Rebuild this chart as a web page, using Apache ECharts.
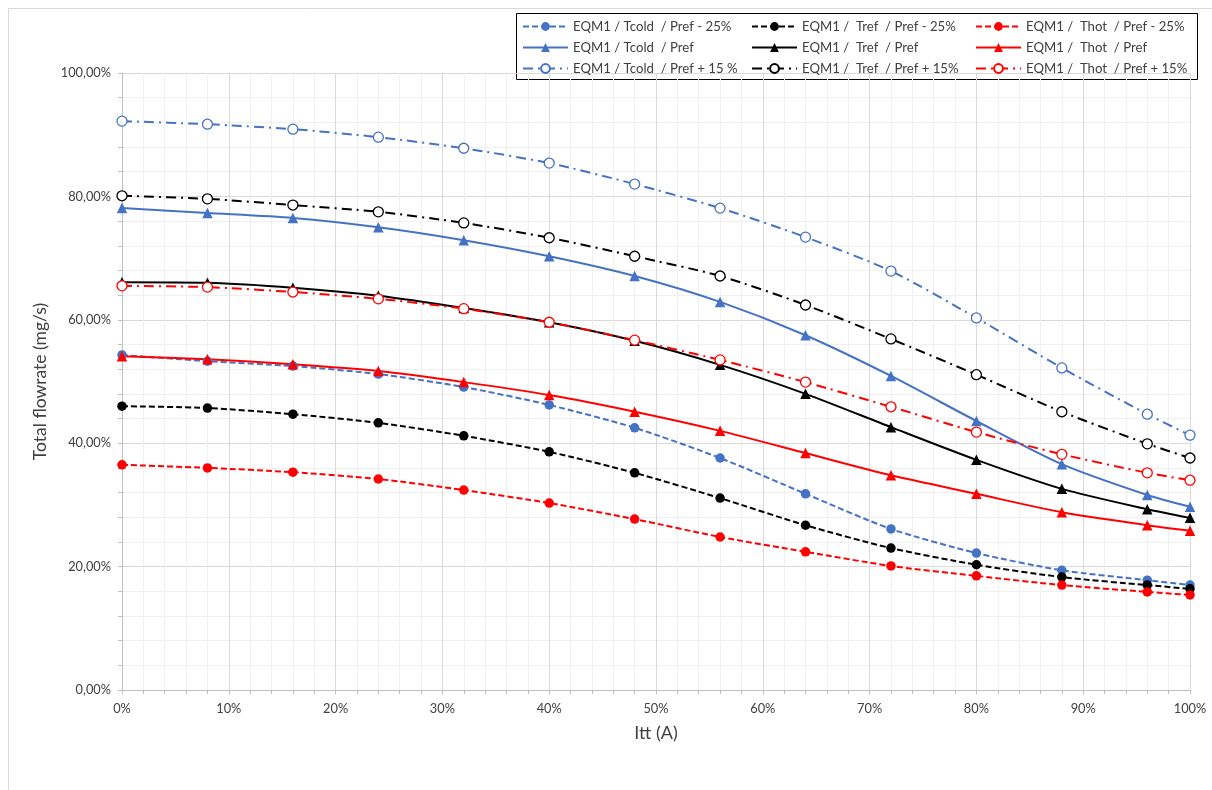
<!DOCTYPE html>
<html><head><meta charset="utf-8">
<script src="https://cdn.jsdelivr.net/npm/echarts@6/dist/echarts.min.js"></script>
<style>html,body{margin:0;padding:0;background:#fff}#c{width:1212px;height:790px}</style>
</head><body><div id="c"></div>
<script>
const itt = [0, 8, 16, 24, 32, 40, 48, 56, 64, 72, 80, 88, 96, 100];
const xTicks = ['0%','10%','20%','30%','40%','50%','60%','70%','80%','90%','100%'];
const tcoldM25 = [54.3, 53.3, 52.5, 51.2, 49.1, 46.2, 42.5, 37.6, 31.8, 26.1, 22.2, 19.4, 17.8, 17.0];
const trefM25  = [46.0, 45.7, 44.7, 43.3, 41.2, 38.6, 35.2, 31.1, 26.7, 23.0, 20.3, 18.3, 17.0, 16.4];
const thotM25  = [36.5, 36.0, 35.3, 34.2, 32.4, 30.3, 27.7, 24.8, 22.4, 20.1, 18.5, 17.0, 15.9, 15.4];
const tcoldRef = [78.1, 77.3, 76.5, 75.0, 72.9, 70.3, 67.1, 62.9, 57.5, 50.9, 43.6, 36.6, 31.6, 29.7];
const trefRef  = [66.1, 66.0, 65.2, 63.9, 61.9, 59.6, 56.6, 52.7, 48.0, 42.6, 37.3, 32.6, 29.3, 27.9];
const thotRef  = [54.1, 53.6, 52.8, 51.7, 49.9, 47.8, 45.1, 42.0, 38.4, 34.8, 31.8, 28.8, 26.7, 25.8];
const tcoldP15 = [92.2, 91.7, 90.9, 89.6, 87.8, 85.4, 82.0, 78.1, 73.4, 67.9, 60.3, 52.2, 44.7, 41.3];
const trefP15  = [80.1, 79.6, 78.6, 77.5, 75.7, 73.3, 70.3, 67.1, 62.4, 56.9, 51.1, 45.1, 39.9, 37.6];
const thotP15  = [65.5, 65.3, 64.5, 63.4, 61.8, 59.6, 56.7, 53.5, 49.9, 45.9, 41.8, 38.2, 35.2, 34.0];
const names = [
  'EQM1 / Tcold  / Pref - 25%', 'EQM1 /  Tref  / Pref - 25%', 'EQM1 /  Thot  / Pref - 25%',
  'EQM1 / Tcold  / Pref', 'EQM1 /  Tref  / Pref', 'EQM1 /  Thot  / Pref',
  'EQM1 / Tcold  / Pref + 15 %', 'EQM1 /  Tref  / Pref + 15%', 'EQM1 /  Thot  / Pref + 15%'
];

const BLUE = '#4472C4', BLACK = '#000000', RED = '#FF0000';
const pair = arr => itt.map((x, i) => [x, arr[i]]);
function mk(name, data, color, kind) {
  const s = { name, type: 'line', data: pair(data), smooth: 0.25, symbolSize: 9,
    lineStyle: { color, width: 2 }, itemStyle: { color }, emphasis: { disabled: true } };
  if (kind === 'm25') { s.symbol = 'circle'; s.symbolSize = 9.5; s.lineStyle.type = [6, 3]; }
  else if (kind === 'ref') { s.symbol = 'triangle'; s.symbolSize = 10.5; s.lineStyle.type = 'solid'; }
  else { s.symbol = 'circle'; s.symbolSize = 10; s.lineStyle.type = [10, 5, 2, 5];
    s.itemStyle = { color: '#fff', borderColor: color, borderWidth: 1.3 }; }
  return s;
}
const series = [
  mk(names[0], tcoldM25, BLUE, 'm25'), mk(names[1], trefM25, BLACK, 'm25'), mk(names[2], thotM25, RED, 'm25'),
  mk(names[3], tcoldRef, BLUE, 'ref'), mk(names[4], trefRef, BLACK, 'ref'), mk(names[5], thotRef, RED, 'ref'),
  mk(names[6], tcoldP15, BLUE, 'p15'), mk(names[7], trefP15, BLACK, 'p15'), mk(names[8], thotP15, RED, 'p15')
];
const FONT = 'Lato';
const legText = { fontFamily: FONT, fontSize: 13.2, color: '#404040' };
function leg(left, data) {
  return { orient: 'vertical', left, top: 20, padding: 0, itemWidth: 45, itemHeight: 11, itemGap: 8,
    data, textStyle: legText, selectedMode: false };
}
const chart = echarts.init(document.getElementById('c'), null, { renderer: 'canvas' });
chart.setOption({
  animation: false,
  backgroundColor: '#fff',
  graphic: [
    { type: 'rect', shape: { x: 8.5, y: 8.5, width: 1230, height: 810 }, style: { fill: null, stroke: '#d9d9d9', lineWidth: 1 }, silent: true },
    { type: 'rect', shape: { x: 516.5, y: 13.5, width: 681, height: 66 }, style: { fill: null, stroke: '#000', lineWidth: 1 }, silent: true, z: -1 }
  ],
  legend: [
    leg(522, [names[0], names[3], names[6]]),
    leg(751, [names[1], names[4], names[7]]),
    leg(975, [names[2], names[5], names[8]])
  ],
  grid: { left: 122, right: 22, top: 73, bottom: 100, containLabel: false },
  xAxis: {
    type: 'value', min: 0, max: 100, interval: 10,
    name: 'Itt (A)', nameLocation: 'middle', nameGap: 34,
    nameTextStyle: { fontFamily: FONT, fontSize: 18, color: '#404040' },
    axisLine: { show: true, lineStyle: { color: '#bfbfbf' } },
    axisTick: { show: true, length: 4, lineStyle: { color: '#bfbfbf' } },
    minorTick: { show: true, splitNumber: 5, length: 4, lineStyle: { color: '#bfbfbf' } },
    axisLabel: { fontFamily: FONT, fontSize: 12.8, color: '#404040', margin: 12,
      formatter: v => xTicks[Math.round(v / 10)] },
    splitLine: { show: true, lineStyle: { color: '#d9d9d9' } },
    minorSplitLine: { show: true, lineStyle: { color: '#f0f0f0' } }
  },
  yAxis: {
    type: 'value', min: 0, max: 100, interval: 20,
    name: 'Total flowrate (mg/s)', nameLocation: 'middle', nameGap: 71,
    nameTextStyle: { fontFamily: FONT, fontSize: 17.5, color: '#404040' },
    axisLine: { show: true, lineStyle: { color: '#bfbfbf' } },
    axisTick: { show: true, length: 4, lineStyle: { color: '#bfbfbf' } },
    minorTick: { show: true, splitNumber: 5, length: 4, lineStyle: { color: '#bfbfbf' } },
    axisLabel: { fontFamily: FONT, fontSize: 12.8, color: '#404040', margin: 11,
      formatter: v => v.toFixed(2).replace('.', ',') + '%' },
    splitLine: { show: true, lineStyle: { color: '#d9d9d9' } },
    minorSplitLine: { show: true, lineStyle: { color: '#f0f0f0' } }
  },
  series
});
</script></body></html>
